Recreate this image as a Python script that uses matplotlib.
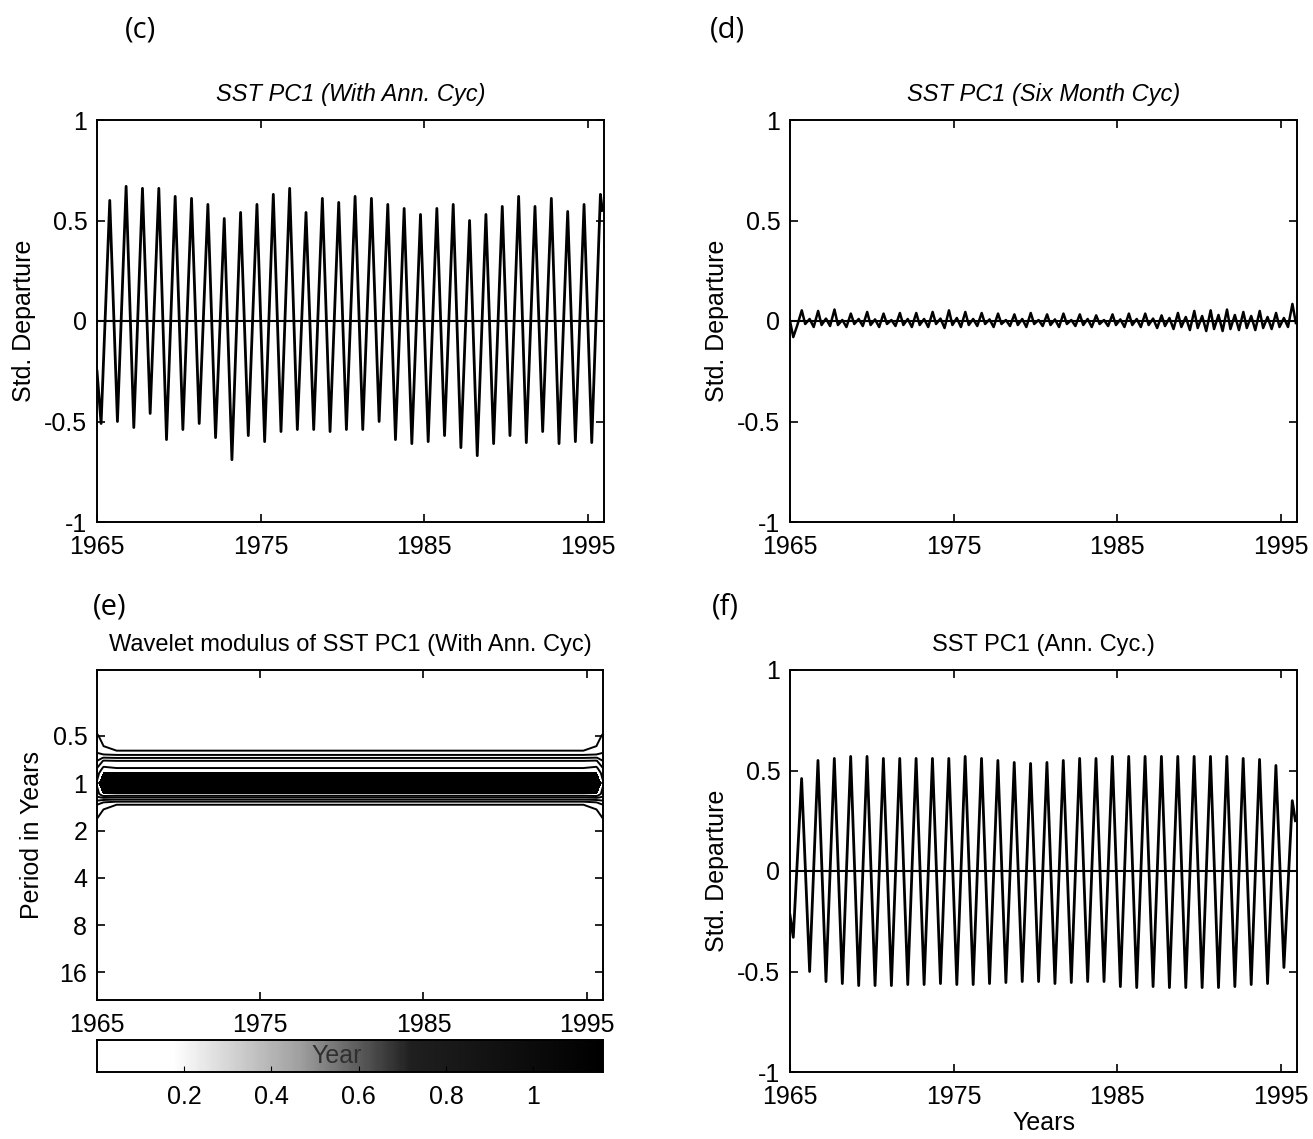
import numpy as np
import matplotlib.pyplot as plt
from matplotlib.colors import LinearSegmentedColormap

plt.rcParams['font.family'] = ['Liberation Sans', 'DejaVu Sans']
plt.rcParams['axes.unicode_minus'] = False

# ---------------- data ----------------
years = np.arange(1965, 1996)          # one annual cycle per year, 1965..1995

# (c) SST PC1 with annual cycle: trough (~Apr) and peak (~Oct) of each year
c_start, c_end = -0.25, 0.55
c_trough = [-0.51, -0.50, -0.53, -0.46, -0.59, -0.54, -0.51, -0.58, -0.69, -0.57,
            -0.60, -0.55, -0.54, -0.54, -0.55, -0.54, -0.54, -0.50, -0.59, -0.61,
            -0.60, -0.57, -0.63, -0.67, -0.61, -0.57, -0.605, -0.55, -0.61, -0.60,
            -0.605]
c_peak = [0.60, 0.67, 0.66, 0.66, 0.62, 0.61, 0.58, 0.51, 0.54, 0.58,
          0.63, 0.66, 0.54, 0.61, 0.59, 0.62, 0.61, 0.58, 0.56, 0.53,
          0.56, 0.58, 0.50, 0.53, 0.57, 0.62, 0.57, 0.61, 0.545, 0.58,
          0.63]
c_phase = [0.25, 0.78]

# (d) six month cycle: small peak, dip, big peak, dip within each year
d_start = 0.0
d_small = [-0.08, 0.010, 0.012, 0.005, 0.010, 0.008, 0.005, 0.010, 0.010, 0.012,
           0.015, 0.010, 0.008, 0.005, 0.010, 0.005, 0.008, 0.005, 0.010, 0.005,
           0.008, 0.010, 0.012, 0.015, 0.020, 0.025, 0.030, 0.030, 0.025, 0.020,
           0.015]
d_dip2 = [-0.02, -0.03, -0.025, -0.03, -0.025, -0.03, -0.025, -0.03, -0.03, -0.035,
          -0.03, -0.025, -0.03, -0.025, -0.03, -0.025, -0.03, -0.025, -0.03, -0.025,
          -0.03, -0.03, -0.035, -0.04, -0.045, -0.05, -0.05, -0.045, -0.045, -0.04,
          -0.03]
d_big = [0.053, 0.050, 0.057, 0.037, 0.045, 0.037, 0.040, 0.040, 0.045, 0.053,
         0.045, 0.040, 0.037, 0.033, 0.040, 0.033, 0.037, 0.033, 0.028, 0.033,
         0.037, 0.037, 0.028, 0.040, 0.050, 0.053, 0.057, 0.045, 0.050, 0.040,
         0.085]
d_dip1 = [-0.015, -0.02, -0.02, -0.015, -0.02, -0.015, -0.02, -0.02, -0.015, -0.02,
          -0.02, -0.015, -0.015, -0.02, -0.015, -0.02, -0.015, -0.02, -0.015, -0.02,
          -0.02, -0.02, -0.025, -0.03, -0.035, -0.04, -0.04, -0.035, -0.035, -0.03,
          -0.01]
d_phase = [0.2, 0.45, 0.72, 0.93]

# (f) annual cycle only
f_start, f_end = -0.22, 0.25
f_trough = [-0.33, -0.50, -0.55, -0.56, -0.57, -0.57, -0.57, -0.565, -0.565, -0.56,
            -0.565, -0.565, -0.56, -0.555, -0.55, -0.55, -0.56, -0.555, -0.55, -0.55,
            -0.575, -0.58, -0.575, -0.58, -0.58, -0.58, -0.58, -0.575, -0.565, -0.56,
            -0.48]
f_peak = [0.46, 0.55, 0.56, 0.57, 0.57, 0.56, 0.56, 0.56, 0.56, 0.56,
          0.57, 0.56, 0.55, 0.54, 0.535, 0.54, 0.55, 0.56, 0.56, 0.57,
          0.57, 0.57, 0.57, 0.57, 0.57, 0.57, 0.57, 0.56, 0.555, 0.525,
          0.35]
f_phase = [0.2, 0.71]

# (e) wavelet modulus: profiles over period at record edge, near edge, interior
wav_periods = [0.19, 0.35, 0.45, 0.5, 0.56, 0.62, 0.66, 0.69, 0.72, 0.8, 0.86, 1.0,
               1.17, 1.2, 1.23, 1.27, 1.31, 1.37, 1.5, 1.68, 2.0, 3.0, 6.0, 24.0]
mod_edge = [0, 0.04, 0.08, 0.11, 0.15, 0.19, 0.21, 0.25, 0.30, 0.40, 0.45, 0.52,
            0.45, 0.42, 0.38, 0.33, 0.27, 0.20, 0.15, 0.10, 0.06, 0.02, 0.01, 0]
mod_near = [0, 0.02, 0.05, 0.07, 0.09, 0.12, 0.21, 0.31, 0.41, 0.52, 0.60, 0.75,
            0.60, 0.52, 0.42, 0.32, 0.22, 0.13, 0.09, 0.06, 0.04, 0.02, 0.01, 0]
mod_mid = [0, 0.01, 0.03, 0.05, 0.07, 0.10, 0.20, 0.30, 0.40, 0.50, 0.60, 1.10,
           0.60, 0.50, 0.40, 0.30, 0.20, 0.10, 0.07, 0.05, 0.03, 0.01, 0.005, 0]
wav_times = [1965.0, 1965.4, 1966.2, 1994.8, 1995.6, 1996.0]
wav_levels = [0.1, 0.2, 0.3, 0.4, 0.5]
cbar_max = 1.16


def cycle_series(start, values, phases, end):
    t = [1965.0]
    v = [start]
    for i, y in enumerate(years):
        for arr, ph in zip(values, phases):
            t.append(y + ph)
            v.append(arr[i])
    if end is not None:
        t.append(1995.9)
        v.append(end)
    return np.array(t), np.array(v)


def style(ax):
    ax.tick_params(direction='in', top=True, right=True, labelsize=18,
                   length=6, width=1.2)
    ax.tick_params(axis='x', pad=9)
    ax.tick_params(axis='y', pad=7)
    for s in ax.spines.values():
        s.set_linewidth(1.4)
    ax.set_xlim(1965, 1996)
    ax.set_xticks([1965, 1975, 1985, 1995])


def std_axes(ax, title, italic):
    style(ax)
    ax.set_ylim(-1, 1)
    ax.set_yticks([-1, -0.5, 0, 0.5, 1])
    ax.set_yticklabels(['-1', '-0.5', '0', '0.5', '1'])
    ax.set_ylabel('Std. Departure', fontsize=18, labelpad=6)
    ax.set_title(title, fontsize=17, pad=14, style='italic' if italic else 'normal')
    ax.axhline(0, color='black', lw=1.5)


fig = plt.figure(figsize=(13.13, 11.39), dpi=100)
W, H = 1313, 1139


def box(l, t, r, b):
    return [l / W, 1 - b / H, (r - l) / W, (b - t) / H]


# (c)
ax_c = fig.add_axes(box(97, 120, 604, 522))
t, v = cycle_series(c_start, [c_trough, c_peak], c_phase, c_end)
ax_c.plot(t, v, color='black', lw=2.0)
std_axes(ax_c, 'SST PC1 (With Ann. Cyc)', True)

# (d)
ax_d = fig.add_axes(box(790, 120, 1297, 522))
t, v = cycle_series(d_start, [d_small, d_dip2, d_big, d_dip1], d_phase, None)
ax_d.plot(t, v, color='black', lw=1.8)
std_axes(ax_d, 'SST PC1 (Six Month Cyc)', True)

# (f)
ax_f = fig.add_axes(box(790, 670, 1297, 1072))
t, v = cycle_series(f_start, [f_trough, f_peak], f_phase, f_end)
ax_f.plot(t, v, color='black', lw=2.0)
std_axes(ax_f, 'SST PC1 (Ann. Cyc.)', False)
ax_f.set_xlabel('Years', fontsize=18, labelpad=2)

# (e) wavelet modulus
ax_e = fig.add_axes(box(97, 670, 603, 1000))
Z = np.column_stack([mod_edge, mod_near, mod_mid, mod_mid, mod_near, mod_edge])
T, P = np.meshgrid(wav_times, wav_periods)
ax_e.contourf(T, P, Z, levels=[0.6, 2.0], colors='black')
ax_e.contour(T, P, Z, levels=wav_levels, colors='black', linewidths=1.4)
ax_e.set_yscale('log', base=2)
style(ax_e)
ax_e.set_ylim(24, 0.19)
ax_e.set_yticks([0.5, 1, 2, 4, 8, 16])
ax_e.set_yticklabels(['0.5', '1', '2', '4', '8', '16'])
ax_e.minorticks_off()
ax_e.set_ylabel('Period in Years', fontsize=18, labelpad=6)
ax_e.set_title('Wavelet modulus of SST PC1 (With Ann. Cyc)', fontsize=17, pad=14)

# colour bar
ax_cb = fig.add_axes(box(97, 1040, 603, 1072))
cmap = LinearSegmentedColormap.from_list(
    'mod', [(0, 'white'), (0.15, 'white'), (0.4, '#a0a0a0'), (0.62, '#202020'), (1, 'black')])
grad = np.linspace(0, cbar_max, 300)[None, :]
ax_cb.imshow(grad, extent=[0, cbar_max, 0, 1], aspect='auto', cmap=cmap,
             vmin=0, vmax=cbar_max)
ax_cb.set_xlim(0, cbar_max)
ax_cb.set_yticks([])
ax_cb.set_xticks([0.2, 0.4, 0.6, 0.8, 1.0])
ax_cb.set_xticklabels(['0.2', '0.4', '0.6', '0.8', '1'])
ax_cb.tick_params(direction='in', labelsize=18, length=4, pad=9)
for s in ax_cb.spines.values():
    s.set_linewidth(1.4)
ax_cb.text(0.55, 0.5, 'Year', fontsize=18, color='#303030', va='center', ha='center')

# panel letters
for lab, x, y in [('(c)', 140, 30), ('(d)', 727, 30), ('(e)', 110, 607), ('(f)', 725, 607)]:
    fig.text(x / W, 1 - y / H, lab, fontsize=21, family=['Open Sans', 'DejaVu Sans'],
             ha='center', va='center')

fig.savefig('out.png', dpi=100)
